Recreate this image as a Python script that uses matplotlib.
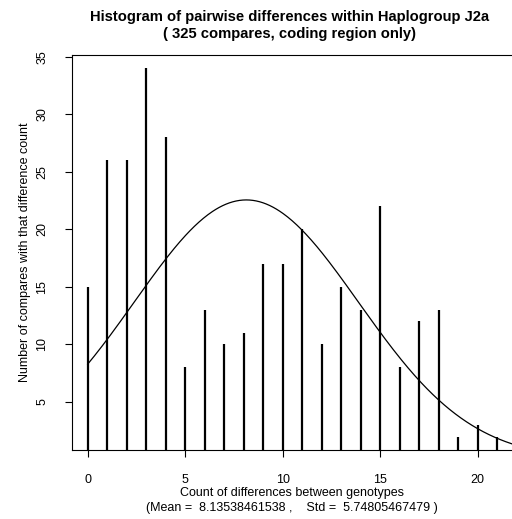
import numpy as np
import matplotlib.pyplot as plt

plt.rcParams['font.family'] = ['Liberation Sans', 'DejaVu Sans']

# Pairwise difference counts and how many compares had each
diffs = list(range(22))
counts = [15, 26, 26, 34, 28, 8, 13, 10, 11, 17, 17,
          20, 10, 15, 13, 22, 8, 12, 13, 2, 3, 2]
n_total = 325
mean_diff = 8.13538461538
std_diff = 5.74805467479

fig = plt.figure(figsize=(5.12, 5.19), dpi=100)
ax = fig.add_axes([0.140, 0.133, 0.860, 0.7617])

# histogram drawn as vertical spikes (R type="h")
ax.vlines(diffs, 0, counts, colors="black", linewidth=1.6)

# fitted normal curve scaled to the number of compares
xs = np.linspace(0, 23, 400)
ys = n_total * np.exp(-(xs - mean_diff) ** 2 / (2 * std_diff ** 2)) / (std_diff * np.sqrt(2 * np.pi))
ax.plot(xs, ys, color="black", linewidth=0.9)

ax.set_xlim(-0.82, 21.76)
ax.set_ylim(0.83, 35.18)
ax.set_xticks([0, 5, 10, 15, 20])
ax.set_yticks([5, 10, 15, 20, 25, 30, 35])
ax.tick_params(axis="both", direction="out", length=5, width=0.8, labelsize=9)
ax.tick_params(axis="x", pad=12)
ax.tick_params(axis="y", pad=12)
for lab in ax.get_yticklabels():
    lab.set_rotation(90)
    lab.set_va("center")
ax.spines["right"].set_visible(False)
for s in ["left", "top", "bottom"]:
    ax.spines[s].set_linewidth(0.8)

ax.set_ylabel("Number of compares with that difference count", fontsize=9, labelpad=4)

fig.text(0.566, 1 - 17 / 519, "Histogram of pairwise differences within Haplogroup J2a",
         ha="center", va="center", fontsize=10.6, fontweight="bold")
fig.text(0.566, 1 - 34 / 519, "( 325 compares, coding region only)",
         ha="center", va="center", fontsize=10.6, fontweight="bold")
fig.text(0.570, 1 - 493 / 519, "Count of differences between genotypes",
         ha="center", va="center", fontsize=9)
fig.text(0.570, 1 - 508 / 519, "(Mean =  8.13538461538 ,    Std =  5.74805467479 )",
         ha="center", va="center", fontsize=9)

fig.savefig("out.png", dpi=100)
